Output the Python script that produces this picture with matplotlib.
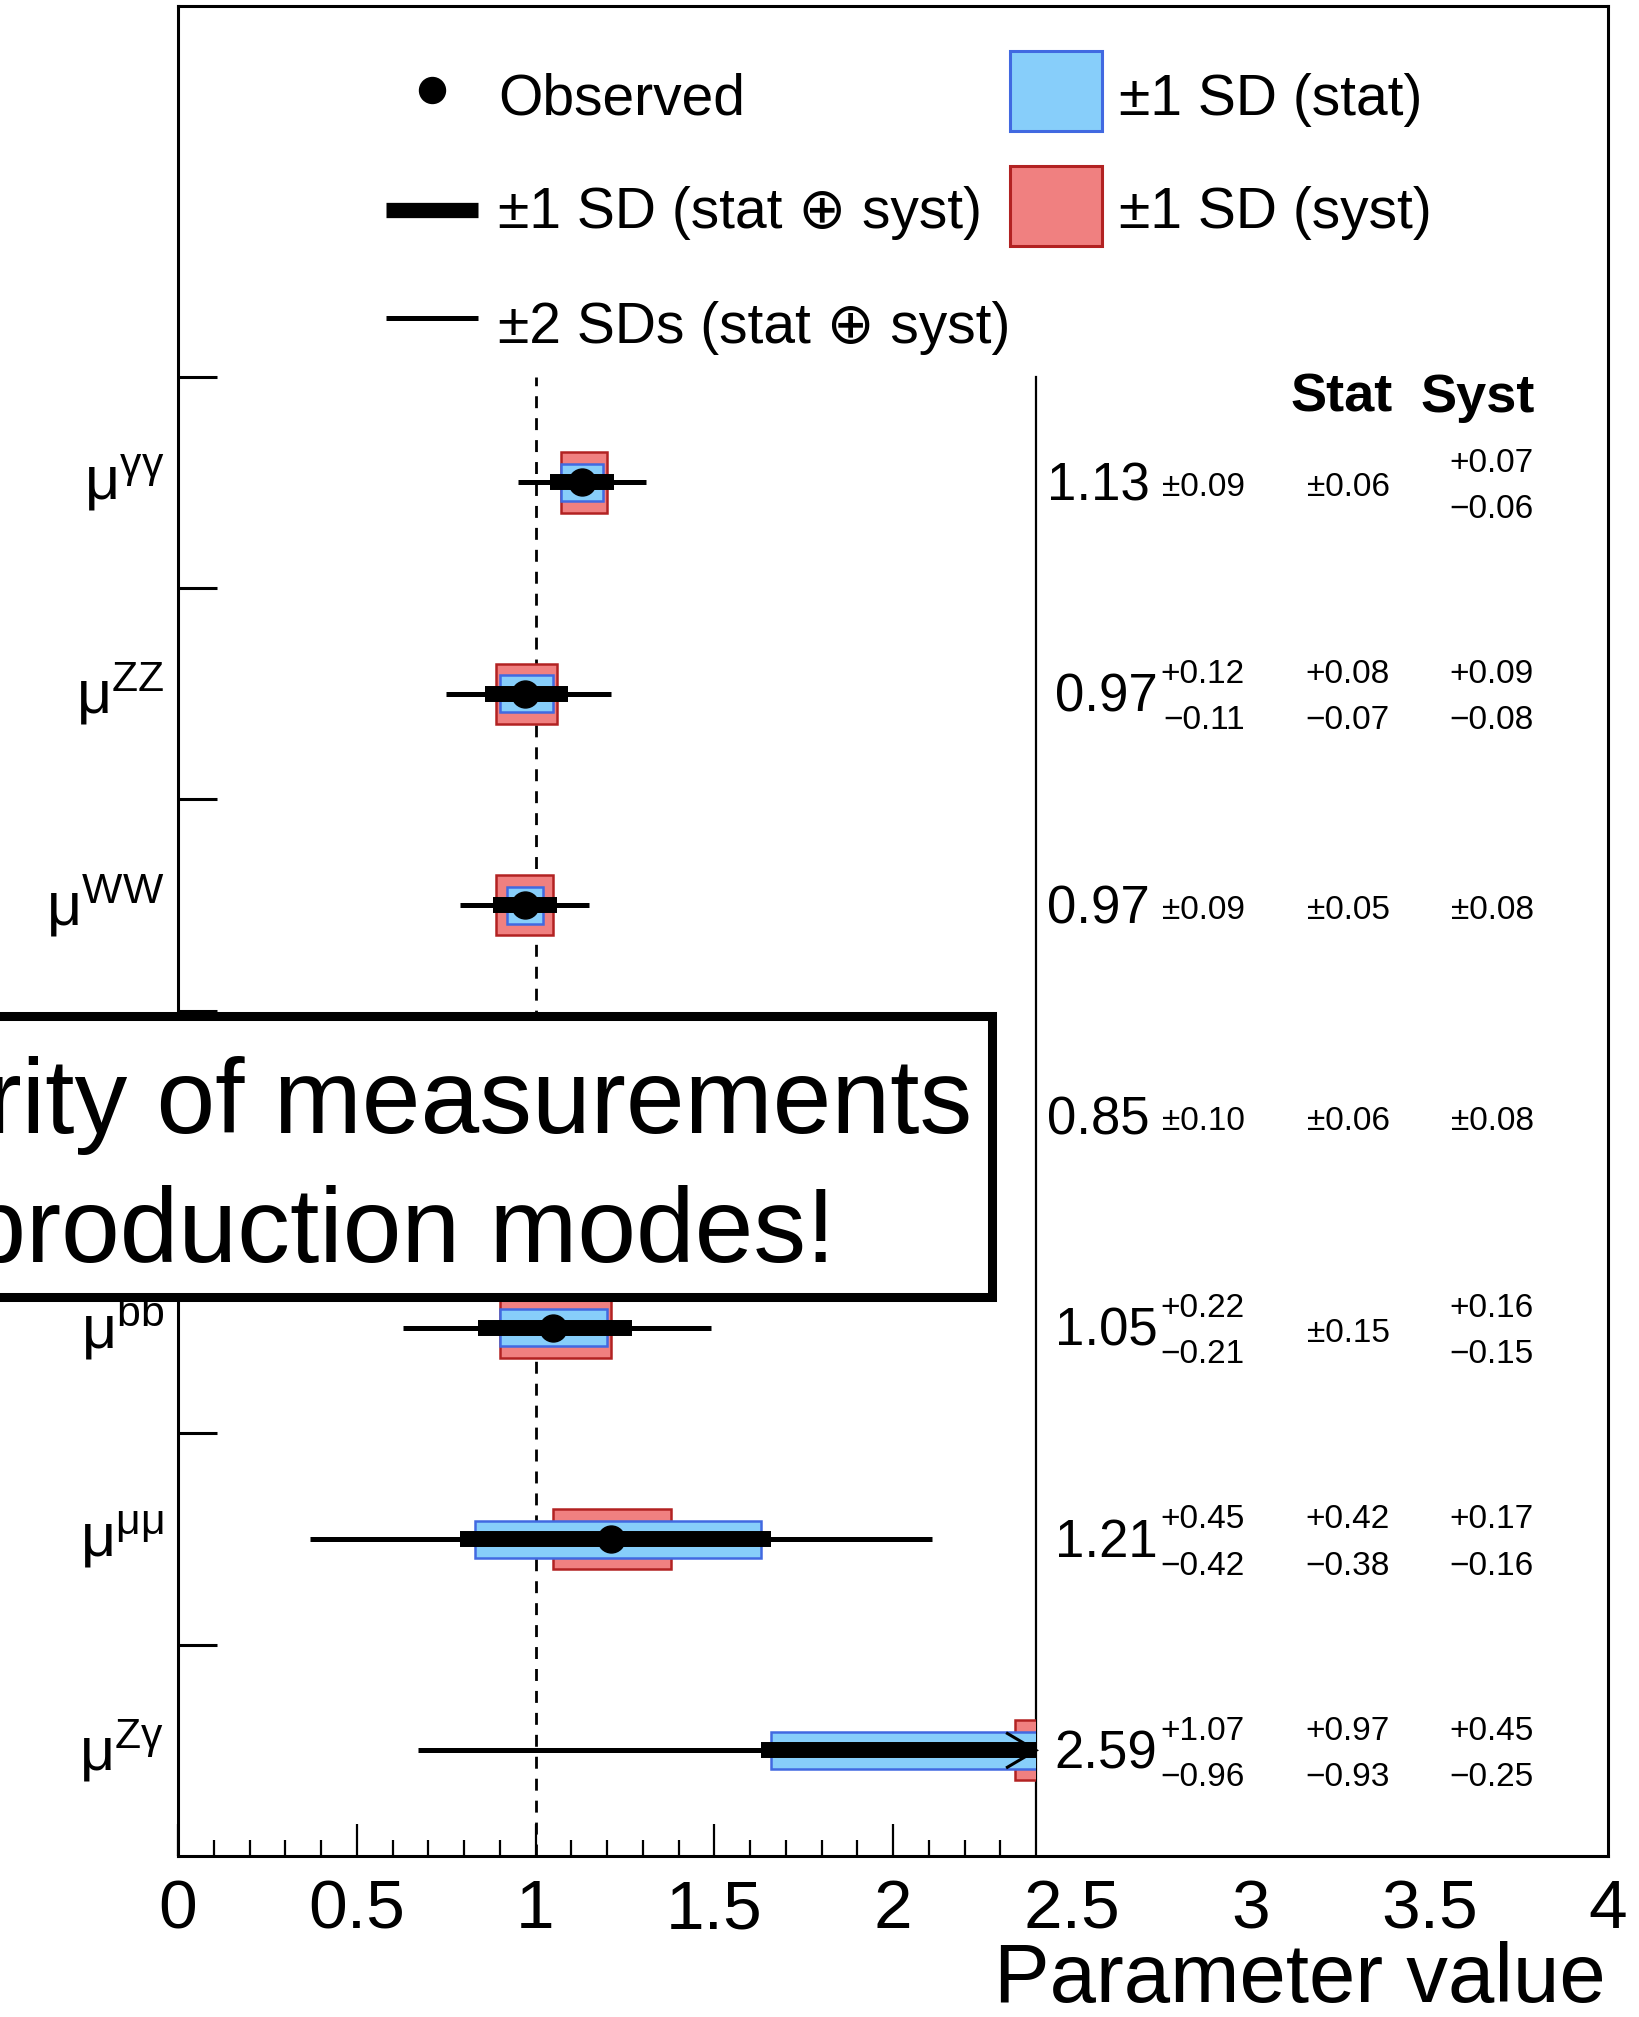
import numpy as np
import matplotlib
matplotlib.use("Agg")
import matplotlib.pyplot as plt
from matplotlib.patches import Rectangle
from matplotlib.transforms import blended_transform_factory

plt.rcParams["font.family"] = ["Liberation Sans", "DejaVu Sans"]
plt.rcParams["mathtext.fontset"] = "custom"
plt.rcParams["mathtext.rm"] = "Liberation Sans"
plt.rcParams["mathtext.default"] = "regular"

# signal strength per decay channel, listed top row first
channels = [r"$\mu^{\gamma\gamma}$", r"$\mu^{ZZ}$", r"$\mu^{WW}$", r"$\mu^{\tau\tau}$",
            r"$\mu^{bb}$", r"$\mu^{\mu\mu}$", r"$\mu^{Z\gamma}$"]
mu = [1.13, 0.97, 0.97, 0.85, 1.05, 1.21, 2.59]
tot_up = [0.09, 0.12, 0.09, 0.10, 0.22, 0.45, 1.07]
tot_dn = [0.09, 0.11, 0.09, 0.10, 0.21, 0.42, 0.96]
stat_up = [0.06, 0.08, 0.05, 0.06, 0.15, 0.42, 0.97]
stat_dn = [0.06, 0.07, 0.05, 0.06, 0.15, 0.38, 0.93]
syst_up = [0.07, 0.09, 0.08, 0.08, 0.16, 0.17, 0.45]
syst_dn = [0.06, 0.08, 0.08, 0.08, 0.15, 0.16, 0.25]

x_ticks = [0, 0.5, 1, 1.5, 2, 2.5, 3, 3.5, 4]
x_tick_labels = ["0", "0.5", "1", "1.5", "2", "2.5", "3", "3.5", "4"]

X_CUT = 2.4          # marks live left of this, the numbers table right of it
N = len(mu)
Y_TOP = 8.755

RED_FC, RED_EC = "#f08080", "#b22222"
BLUE_FC, BLUE_EC = "#87cefa", "#4169e1"


def err_text(up, dn):
    if abs(up - dn) < 1e-9:
        return [("\u00b1%.2f" % up, 0.0)]
    return [("+%.2f" % up, 0.050), ("\u2212%.2f" % dn, -0.168)]


fig = plt.figure(figsize=(16.39, 20.17), dpi=100)
ax = fig.add_axes([178 / 1639, 1 - 1856 / 2017, 1430 / 1639, 1850 / 2017])
ax.set_xlim(0, 4)
ax.set_ylim(0, Y_TOP)

for s in ax.spines.values():
    s.set_linewidth(2.2)

ax.set_xticks(x_ticks, x_tick_labels)
ax.set_xticks([t / 10 for t in range(1, 24) if t % 5], minor=True)
ax.set_yticks(range(1, N + 1), [""] * N)
ax.tick_params(axis="x", which="major", direction="in", length=23, width=1.6,
               labelsize=50, pad=16)
ax.tick_params(axis="x", which="minor", direction="in", length=11.5, width=1.6)
ax.tick_params(axis="y", which="major", direction="in", length=28, width=2.2)
for t in ax.xaxis.get_major_ticks():
    if t.get_loc() > X_CUT:
        t.tick1line.set_visible(False)

ax.set_xlabel("Parameter value", fontsize=60, loc="right")
ax.xaxis.label.set_va("baseline")
ax.xaxis.set_label_coords(0.9986, -0.0789)

clip = Rectangle((0, 0), X_CUT, N, transform=ax.transData)

# reference line at SM expectation and the separator of the table
ax.plot([1, 1], [0, N], color="k", lw=2, ls=(0, (4.3, 3.6)))
ax.plot([X_CUT, X_CUT], [0, N], color="k", lw=1.6)

ylab = blended_transform_factory(ax.transAxes, ax.transData)

for i in range(N):
    y = N - 0.5 - i
    m = mu[i]

    red = Rectangle((m - syst_dn[i], y - 0.142), syst_up[i] + syst_dn[i], 0.284,
                    fc=RED_FC, ec=RED_EC, lw=1.8, zorder=2)
    blue = Rectangle((m - stat_dn[i], y - 0.0875), stat_up[i] + stat_dn[i], 0.175,
                     fc=BLUE_FC, ec=BLUE_EC, lw=1.8, zorder=3)
    for p in (red, blue):
        ax.add_patch(p)
        p.set_clip_path(clip)

    arts = []
    arts += ax.plot([m - 2 * tot_dn[i], m + 2 * tot_up[i]], [y, y], color="k",
                    lw=3.6, solid_capstyle="butt", zorder=4)
    arts += ax.plot([m - tot_dn[i], m + tot_up[i]], [y, y], color="k",
                    lw=11.5, solid_capstyle="butt", zorder=5)
    arts += ax.plot([m], [y], "o", color="k", ms=19.4, zorder=6)
    for a in arts:
        a.set_clip_path(clip)

    # arrow head where the interval runs past the plotted range
    if m + tot_up[i] > X_CUT:
        ax.plot([X_CUT - 0.08, X_CUT, X_CUT - 0.08], [y + 0.08, y, y - 0.08],
                color="k", lw=2.2, zorder=7, solid_joinstyle="miter")

    ax.text(-0.0095, y, channels[i], transform=ylab, ha="right", va="center",
            fontsize=44)

    # numbers table
    sym = abs(tot_up[i] - tot_dn[i]) < 1e-9
    ax.text(2.718 if sym else 2.740, y - 0.085, "%.2f" % m, fontsize=38,
            ha="right", va="baseline")
    for xr, up, dn in ((2.984, tot_up[i], tot_dn[i]),
                       (3.390, stat_up[i], stat_dn[i]),
                       (3.793, syst_up[i], syst_dn[i])):
        for s, dy in err_text(up, dn):
            base = y - 0.066 if dy == 0.0 else y + dy
            ax.text(xr, base, s, fontsize=24, ha="right", va="baseline")

ax.text(3.398, 6.834, "Stat", fontsize=39, fontweight="bold", ha="right", va="baseline")
ax.text(3.796, 6.834, "Syst", fontsize=39, fontweight="bold", ha="right", va="baseline")

# legend
ax.plot([0.711], [8.358], "o", color="k", ms=18.7, clip_on=False)
ax.plot([0.582, 0.840], [7.79, 7.79], color="k", lw=11, solid_capstyle="butt")
ax.plot([0.582, 0.840], [7.279, 7.279], color="k", lw=3.6, solid_capstyle="butt")
ax.add_patch(Rectangle((2.326, 8.164), 0.258, 0.379, fc=BLUE_FC, ec=BLUE_EC, lw=2.2))
ax.add_patch(Rectangle((2.326, 7.619), 0.258, 0.379, fc=RED_FC, ec=RED_EC, lw=2.2))
leg_font = dict(fontsize=41, ha="left", va="baseline")
ax.text(0.896, 8.240, "Observed", **leg_font)
ax.text(0.896, 7.705, "\u00b11 SD (stat \u2295 syst)", **leg_font)
ax.text(0.896, 7.160, "\u00b12 SDs (stat \u2295 syst)", **leg_font)
ax.text(2.631, 8.240, "\u00b11 SD (stat)", **leg_font)
ax.text(2.631, 7.705, "\u00b11 SD (syst)", **leg_font)

# callout box laid over the plot
fig.add_artist(Rectangle((-0.05, 1 - 1297.5 / 2017), 0.05 + 991.5 / 1639, 281 / 2017,
                         transform=fig.transFigure, fc="white", ec="black", lw=6.5,
                         zorder=10))
fig.text(972 / 1639, 1 - 1133 / 2017, "Majority of measurements", fontsize=76,
         ha="right", va="baseline", zorder=11)
fig.text(835 / 1639, 1 - 1262 / 2017, "in production modes!", fontsize=76,
         ha="right", va="baseline", zorder=11)

fig.savefig("out.png", dpi=100)
